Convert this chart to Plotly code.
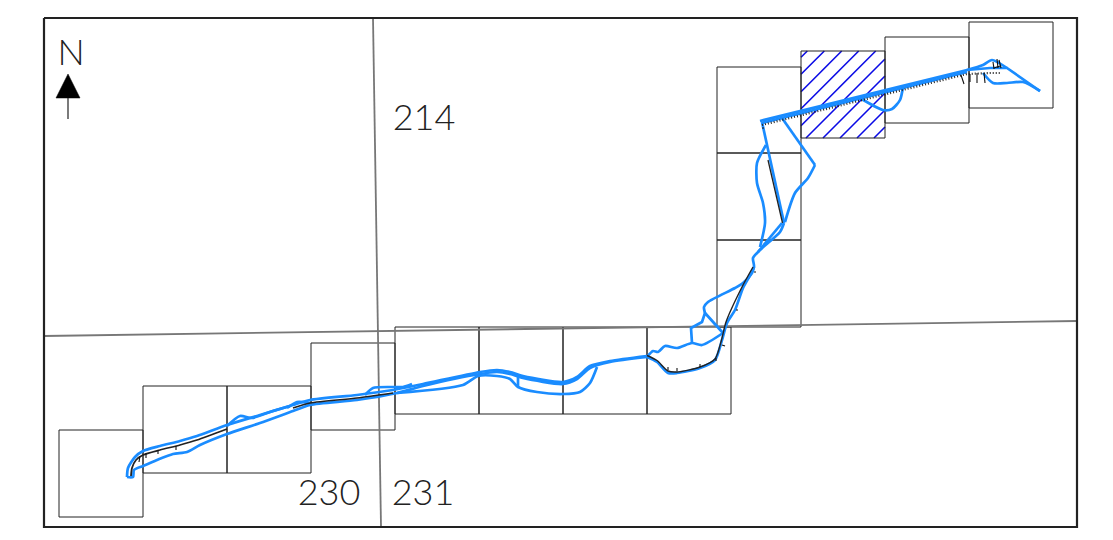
import plotly.graph_objects as go

# map coordinates (image-plane units, y down)
frame_x = [44, 1077, 1077, 44, 44]
frame_y = [18, 18, 527, 527, 18]
boundary_v_x = [373, 381]
boundary_v_y = [18, 527]
boundary_h_x = [44, 1077]
boundary_h_y = [336, 321]

# sheet squares: left, top, right, bottom
sheet_left = [59, 143, 227, 311, 395, 479, 563, 647, 717, 717, 717, 801, 885, 969]
sheet_top = [430, 386, 386, 343, 327, 327, 327, 327, 240, 153, 67, 51, 37, 22]
sheet_right = [143, 227, 311, 395, 479, 563, 647, 731, 801, 801, 801, 885, 969, 1053]
sheet_bottom = [517, 473, 473, 430, 414, 414, 414, 414, 327, 240, 153, 138, 123, 108]

hatch_box = (801, 51, 885, 138)
hatch_offsets = [858.3, 875.3, 892.7, 909.7, 926.7, 944, 961, 978, 995, 1012]

# road centreline (black), visible stretches
center_a_x = [131, 132, 136, 143, 160, 180, 197, 227]
center_a_y = [476, 468, 460, 455, 450, 445, 440, 429]
center_b_x = [293, 310, 357, 393]
center_b_y = [408, 403, 398, 393]
center_c_x = [647, 657, 668, 677, 700, 715, 721.5, 726, 742, 753]
center_c_y = [355.5, 360.5, 371, 372, 367, 359, 340, 322, 287, 267]
center_d_x = [782.5, 768]
center_d_y = [223, 160]
center_e_x = [762, 967, 990, 1000]
center_e_y = [125, 74, 73, 73]

# blue routes
route_a_x = [127, 128, 135, 143, 160, 180, 197, 227, 260, 293, 310, 357, 393, 423, 480, 497, 510, 523, 563, 577, 590, 610, 647]
route_a_y = [477, 468, 457, 451, 446, 441, 436, 425, 415, 405, 400, 395, 390, 384, 372, 370, 372, 376, 382, 377, 366, 361, 356]
route_b_x = [127, 133, 134, 143, 157, 173, 187, 200, 227, 260, 293, 310, 357, 397, 423, 480, 497, 510, 523, 563, 577, 590, 610, 647]
route_b_y = [477, 477, 470, 466, 460, 454, 452, 445, 434, 423, 411, 405, 400, 393, 386, 374, 372, 374, 378, 384, 379, 368, 362, 357]
route_c_x = [227, 240, 252, 270, 290]
route_c_y = [426, 416, 418, 412, 406]
route_d_x = [287, 297, 310]
route_d_y = [408, 402, 403]
route_e_x = [365, 373, 393, 403, 412]
route_e_y = [395, 388, 387, 387, 384]
route_f_x = [397, 463, 478, 497, 510, 518, 537, 563, 580, 590, 597]
route_f_y = [393, 385, 376, 376, 379, 387, 392, 394, 392, 383, 367]
route_g_x = [518, 518]
route_g_y = [377, 387]
route_h_x = [647, 657, 668, 677, 700, 715, 722, 727, 735, 743, 754, 753, 760, 780, 784, 762]
route_h_y = [357, 362, 373, 373, 368, 360, 340, 323, 310, 288, 267, 258, 250, 232, 223, 122]
route_i_x = [647, 653, 658, 665, 677, 692, 702, 723, 705, 702, 691, 692]
route_i_y = [357, 351, 352, 346, 348, 343, 345, 333, 313, 322, 328, 343]
route_j_x = [705, 704, 708, 735, 743, 752, 754]
route_j_y = [313, 307, 302, 288, 283, 273, 267]
route_k_x = [758, 782]
route_k_y = [252, 223]
route_l_x = [760, 765, 763, 757, 757, 766]
route_l_y = [247, 223, 203, 183, 163, 145]
route_m_x = [782, 815, 808, 795, 785]
route_m_y = [118, 165, 178, 193, 222]
route_n_x = [760, 967, 990, 1007, 1040]
route_n_y = [121, 70, 68, 68, 91]
route_n2_x = [762, 967]
route_n2_y = [123, 72]
route_o_x = [967, 983, 992, 1007]
route_o_y = [70, 65, 60, 68]
route_p_x = [983, 993, 1007, 1023, 1040]
route_p_y = [73, 83, 83, 82, 91]
route_q_x = [860, 883, 892, 900, 903]
route_q_y = [98, 110, 109, 100, 87]

# small tick marks: x0, y0, x1, y1
tick_x0 = [961, 970, 977, 984, 993, 997, 999, 1000, 140, 146, 158, 176, 668, 677, 700, 716, 722, 736, 754, 762]
tick_y0 = [75, 74, 73, 73, 62, 59, 60, 66, 456, 453, 450, 446, 367, 368, 364, 358, 345, 310, 272, 128]
tick_x1 = [964, 970, 977, 985, 994, 998, 1001, 994, 139, 146, 158, 176, 668, 677, 700, 716, 725, 738, 756, 764]
tick_y1 = [84, 82, 83, 83, 69, 68, 68, 68, 462, 458, 454, 450, 370, 371, 367, 361, 346, 310, 272, 128]

labels = ["214", "230", "231", "N"]
label_x = [424, 329, 423, 71]
label_y = [121, 496, 496, 56]
arrow_head_x = [68, 56, 80, 68]
arrow_head_y = [74, 98, 98, 74]
arrow_stem_x = [68, 68]
arrow_stem_y = [98, 119]

BLUE = "#1a8cff"
fig = go.Figure()


def line(x, y, color, width, shape="linear", dash=None, smoothing=0.7):
    ln = dict(color=color, width=width, shape=shape)
    if shape == "spline":
        ln["smoothing"] = smoothing
    if dash:
        ln["dash"] = dash
    fig.add_trace(go.Scatter(x=x, y=y, mode="lines", line=ln, hoverinfo="skip", showlegend=False))


# hatch
hx, hy = [], []
l, t, r, b = hatch_box
for c in hatch_offsets:
    x0 = max(l, c - b)
    x1 = min(r, c - t)
    hx += [x0, x1, None]
    hy += [c - x0, c - x1, None]
line(hx, hy, "#0a0ae6", 1.6)

# sheets
sx, sy = [], []
for a, tp, rt, bt in zip(sheet_left, sheet_top, sheet_right, sheet_bottom):
    sx += [a, rt, rt, a, a, None]
    sy += [tp, tp, bt, bt, tp, None]
line(sx, sy, "#222222", 1)

line(boundary_v_x, boundary_v_y, "#777777", 1.8)
line(boundary_h_x, boundary_h_y, "#777777", 1.8)
line(frame_x, frame_y, "#222222", 2.2)

# blue
for rx, ry, sh in [
    (route_a_x, route_a_y, "spline"), (route_b_x, route_b_y, "spline"),
    (route_c_x, route_c_y, "spline"), (route_d_x, route_d_y, "spline"),
    (route_e_x, route_e_y, "spline"), (route_f_x, route_f_y, "spline"),
    (route_g_x, route_g_y, "linear"), (route_h_x[:15], route_h_y[:15], "spline"),
    (route_h_x[14:], route_h_y[14:], "linear"),
    (route_i_x[:8], route_i_y[:8], "spline"), (route_i_x[7:], route_i_y[7:], "linear"),
    (route_j_x, route_j_y, "spline"), (route_k_x, route_k_y, "linear"),
    (route_l_x, route_l_y, "spline"), (route_m_x[:2], route_m_y[:2], "linear"),
    (route_m_x[1:], route_m_y[1:], "spline"), (route_n_x, route_n_y, "linear"),
    (route_n2_x, route_n2_y, "linear"),
    (route_o_x, route_o_y, "spline"), (route_p_x, route_p_y, "spline"),
    (route_q_x, route_q_y, "spline"),
]:
    line(rx, ry, BLUE, 2.7, sh)

# black on top of the blue along the road
line(center_a_x, center_a_y, "#222222", 1.8, "spline")
line(center_b_x, center_b_y, "#222222", 1.6, "spline")
line(center_c_x, center_c_y, "#222222", 1.4, "spline")
line(center_d_x, center_d_y, "#222222", 1.3)
line(center_e_x, center_e_y, "#222222", 2.2, dash="1px,2px")
tx, ty = [], []
for a, c, d, e in zip(tick_x0, tick_y0, tick_x1, tick_y1):
    tx += [a, d, None]
    ty += [c, e, None]
line(tx, ty, "#111111", 1.1)

# north arrow
fig.add_trace(go.Scatter(x=arrow_head_x, y=arrow_head_y, mode="lines", fill="toself",
                         fillcolor="#000000", line=dict(color="#000000", width=0.5),
                         hoverinfo="skip", showlegend=False))
line(arrow_stem_x, arrow_stem_y, "#222222", 1.2)

fig.add_trace(go.Scatter(x=label_x, y=label_y, mode="text", text=labels, textposition="middle center",
                         textfont=dict(family="Lato", size=36, color="#222222", weight=300),
                         hoverinfo="skip", showlegend=False))

fig.update_layout(
    width=1113, height=540, margin=dict(l=0, r=0, t=0, b=0),
    paper_bgcolor="white", plot_bgcolor="white",
    xaxis=dict(range=[0, 1113], visible=False, fixedrange=True),
    yaxis=dict(range=[540, 0], visible=False, fixedrange=True),
)
fig.write_html("out.html", config={"displayModeBar": False},
               post_script="document.body.style.margin='0';")
